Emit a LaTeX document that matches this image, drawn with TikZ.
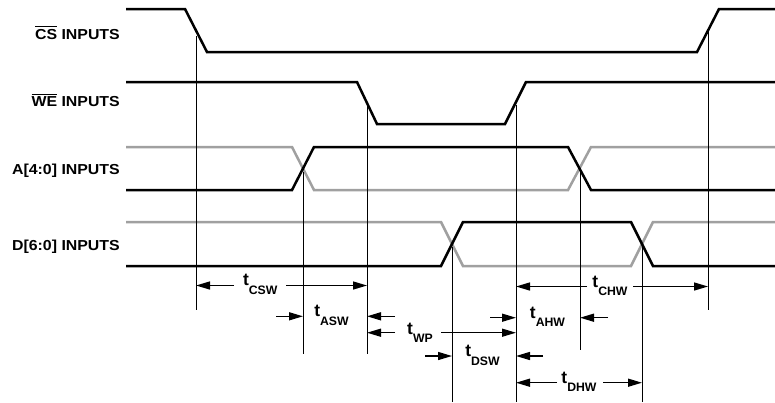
\documentclass[tikz,border=0pt]{standalone}
\usepackage{fontspec}
\setmainfont{Liberation Sans}
\usetikzlibrary{arrows.meta}
\definecolor{sgray}{RGB}{160,160,160}
\newcommand{\tlab}[1]{{\fontsize{17.5}{17}\selectfont t}\raisebox{-8.6bp}{\fontsize{12.3}{12}\selectfont #1}}
\newcommand{\barred}[1]{\vbox{\hrule height 1.4bp\kern 1.6bp\hbox{#1}}}
\tikzset{
  sig/.style={line width=2.5bp, line join=miter, black},
  gsig/.style={line width=2.5bp, line join=miter, sgray},
  mark line/.style={line width=1bp},
  dimarrow/.style={line width=1.4bp, -{Triangle[length=14bp,width=8bp]}},
  siglabel/.style={anchor=base east, inner sep=0pt, font=\fontsize{14.5}{14.5}\selectfont\bfseries},
  tlabel/.style={inner sep=0pt, font=\bfseries},
}
\begin{document}
\begin{tikzpicture}[x=1bp,y=-1bp]
\useasboundingbox (0,0) rectangle (775,402);

% signal labels
\node[siglabel] (lcs) at (120,39) {\scalebox{1.1}[1]{\barred{CS} INPUTS}};
\node[siglabel] (lwe) at (120,106.7) {\scalebox{1.1}[1]{\barred{WE} INPUTS}};
\node[siglabel] (la)  at (120,174) {\scalebox{1.1}[1]{A[4:0] INPUTS}};
\node[siglabel] (ld)  at (120,250) {\scalebox{1.1}[1]{D[6:0] INPUTS}};

% waveforms
\draw[sig] (126,9) -- (185,9) -- (207,52) -- (697,52) -- (719,9) -- (775,9);
\draw[sig] (126,82) -- (357,82) -- (377,124) -- (505,124) -- (526,82) -- (775,82);
\draw[gsig] (126,147) -- (292,147) -- (314,190) -- (568,190) -- (591,147) -- (775,147);
\draw[sig] (126,190) -- (292,190) -- (314,147) -- (568,147) -- (591,190) -- (775,190);
\draw[gsig] (126,222) -- (441,222) -- (463,266) -- (631,266) -- (653,222) -- (775,222);
\draw[sig] (126,266) -- (441,266) -- (463,222) -- (631,222) -- (653,266) -- (775,266);

% marker lines
\coordinate (m1) at (196,36);
\coordinate (m2) at (303,172);
\coordinate (m3) at (367,105);
\coordinate (m4) at (452,247);
\coordinate (m5) at (516,105);
\coordinate (m6) at (580,172);
\coordinate (m7) at (642,247);
\coordinate (m8) at (708,32);
\draw[mark line] (m1) -- (196,310);
\draw[mark line] (m2) -- (303,354);
\draw[mark line] (m3) -- (367,354);
\draw[mark line] (m4) -- (452,402);
\draw[mark line] (m5) -- (516,402);
\draw[mark line] (m6) -- (580,350);
\draw[mark line] (m7) -- (642,402);
\draw[mark line] (m8) -- (708,310);

% tCSW
\node[tlabel] (tcsw) at (260.2,284.5) {\tlab{CSW}};
\draw[dimarrow] (234,285.5) -- (196,285.5);
\draw[dimarrow] (286,285.5) -- (367,285.5);
% tASW
\node[tlabel] (tasw) at (331.5,315.5) {\tlab{ASW}};
\draw[dimarrow] (276,316.3) -- (303,316.3);
\draw[dimarrow] (395,316.3) -- (367,316.3);
% tWP
\node[tlabel] (twp) at (420,333) {\tlab{WP}};
\draw[dimarrow] (395,332.7) -- (367,332.7);
\draw[dimarrow] (441,332.7) -- (516,332.7);
% tAHW
\node[tlabel] (tahw) at (547.5,317) {\tlab{AHW}};
\draw[dimarrow] (490,317.7) -- (516,317.7);
\draw[dimarrow] (608,317.7) -- (580,317.7);
% tCHW
\node[tlabel] (tchw) at (610,286) {\tlab{CHW}};
\draw[dimarrow] (587,286.5) -- (516,286.5);
\draw[dimarrow] (633,286.5) -- (708,286.5);
% tDSW
\node[tlabel] (tdsw) at (482.5,355.3) {\tlab{DSW}};
\draw[dimarrow] (425,356) -- (452,356);
\draw[dimarrow] (543,356) -- (516,356);
% tDHW
\node[tlabel] (tdhw) at (579,382) {\tlab{DHW}};
\draw[dimarrow] (557,382.7) -- (516,382.7);
\draw[dimarrow] (603,382.7) -- (642,382.7);
\end{tikzpicture}
\end{document}
